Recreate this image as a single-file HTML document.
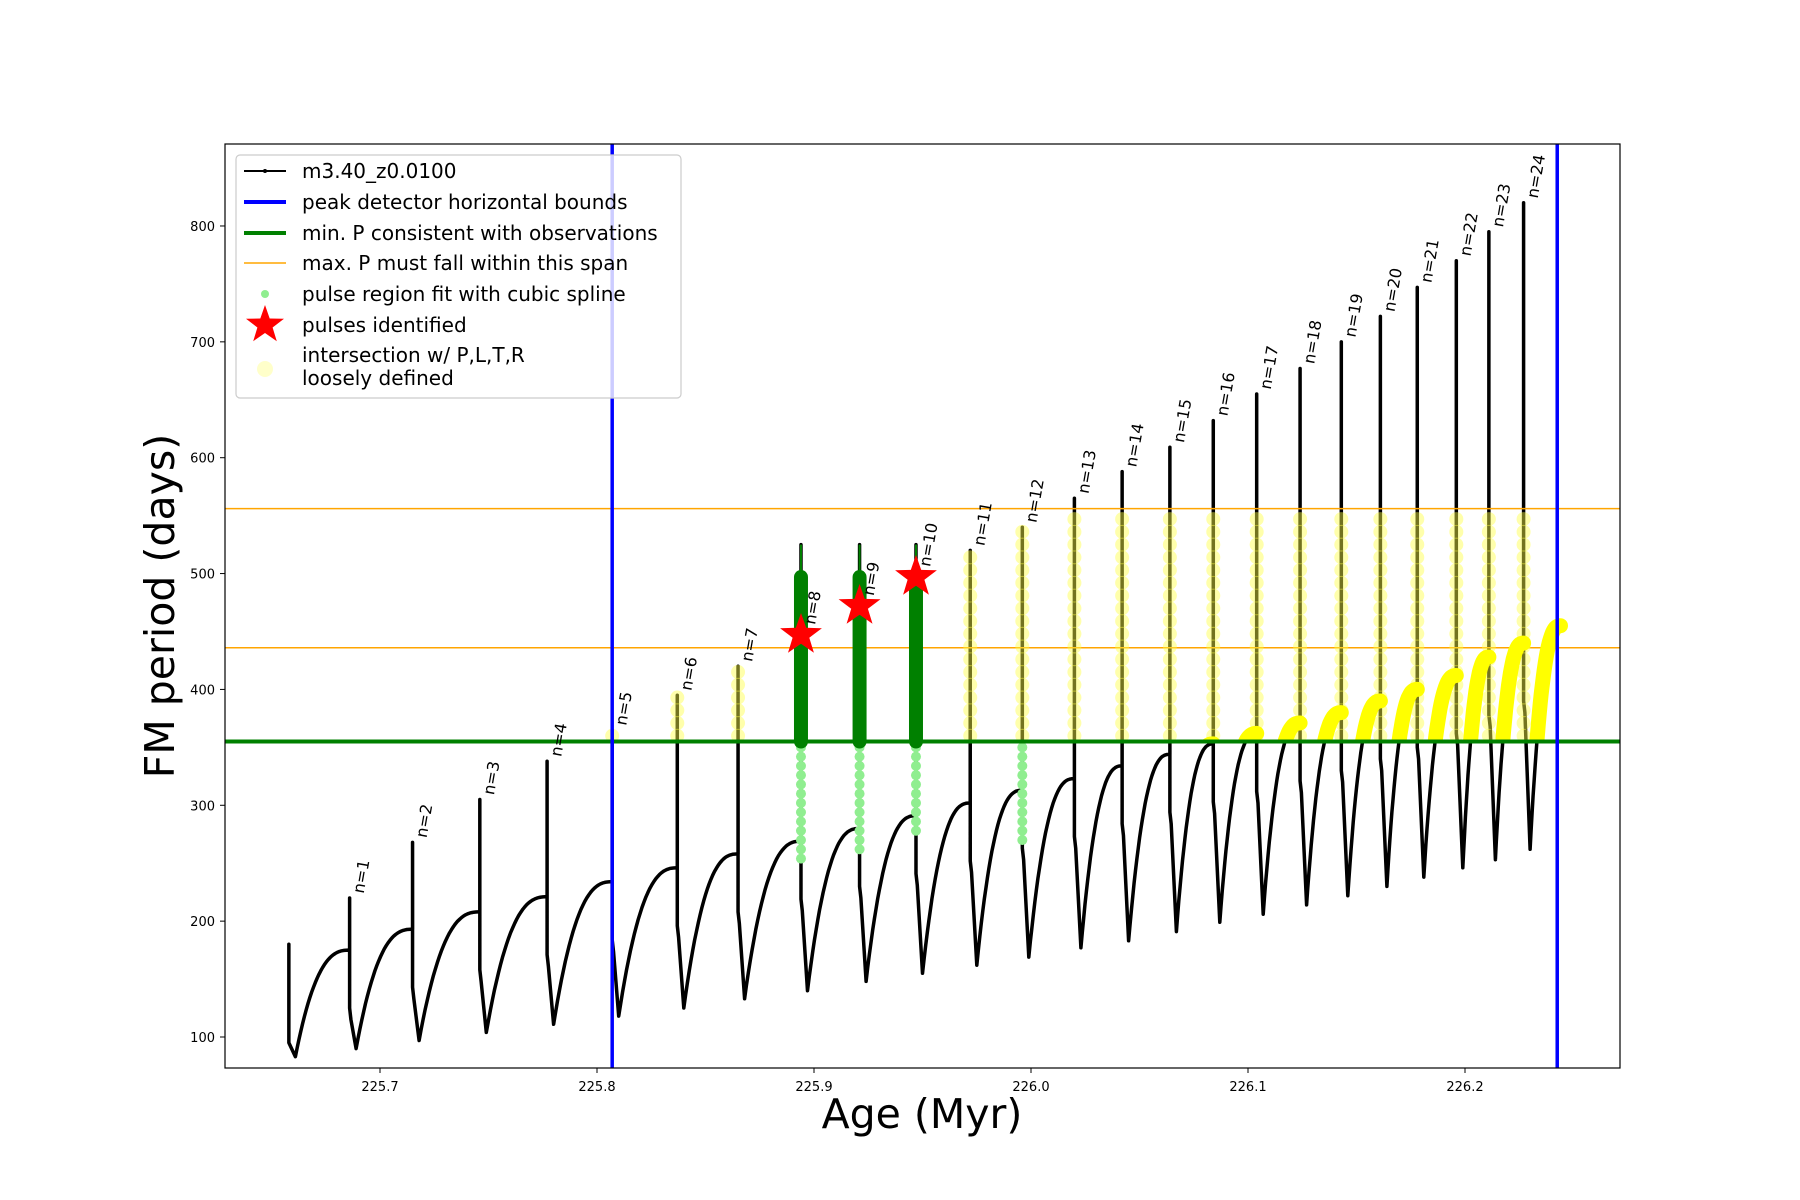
<!DOCTYPE html>
<html><head><meta charset="utf-8">
<style>
html,body{margin:0;padding:0;background:#fff;}
svg{display:block;font-family:"DejaVu Sans","Liberation Sans",sans-serif;}
</style></head>
<body>
<svg id="chart" width="1800" height="1200" viewBox="0 0 1800 1200">
<defs><clipPath id="plotclip"><rect x="225" y="144" width="1395" height="924"/></clipPath>
<clipPath id="yclip"><rect id="yclipr" x="1200" y="144" width="420" height="500"/></clipPath></defs>
<rect x="0" y="0" width="1800" height="1200" fill="#fff"/>
<g id="plot" clip-path="url(#plotclip)"></g>
<rect x="225" y="144" width="1395" height="924" fill="none" stroke="#000" stroke-width="1.2"/>
<g id="axes"></g>
<text x="922" y="1128" font-size="41" text-anchor="middle">Age (Myr)</text>
<text transform="translate(174,606) rotate(-90)" font-size="41" text-anchor="middle">FM period (days)</text>
<g>
<rect x="236" y="155" width="445" height="243" rx="4" fill="#fff" fill-opacity="0.8" stroke="#ccc" stroke-width="1.2"/>
<g font-size="20">
<line x1="244" y1="171" x2="286" y2="171" stroke="#000" stroke-width="2"/><circle cx="265" cy="171" r="2" fill="#000"/>
<text x="302" y="178">m3.40_z0.0100</text>
<line x1="244" y1="202" x2="286" y2="202" stroke="#0000ff" stroke-width="4"/>
<text x="302" y="209">peak detector horizontal bounds</text>
<line x1="244" y1="233" x2="286" y2="233" stroke="#008000" stroke-width="4"/>
<text x="302" y="240">min. P consistent with observations</text>
<line x1="244" y1="263" x2="286" y2="263" stroke="#ffa500" stroke-width="1.5"/>
<text x="302" y="270">max. P must fall within this span</text>
<circle cx="265" cy="294" r="4" fill="#90ee90"/>
<text x="302" y="301">pulse region fit with cubic spline</text>
<polygon id="legstar" fill="#ff0000"/>
<text x="302" y="332">pulses identified</text>
<circle cx="265" cy="369" r="8" fill="#ffff66" fill-opacity="0.35"/>
<text x="302" y="362">intersection w/ P,L,T,R</text>
<text x="302" y="385">loosely defined</text>
</g></g>
</svg>
<script>
const pulseAge=[225.658,225.686,225.715,225.746,225.777,225.807,225.837,225.865,225.894,225.921,225.947,225.972,225.996,226.020,226.042,226.064,226.084,226.104,226.124,226.143,226.161,226.178,226.196,226.211,226.227];
const peakP=[180,220,268,305,338,365,395,420,525,525,525,520,540,565,588,609,632,655,677,700,722,747,770,795,820];
const plateauP=[155,175,193,208,221,234,246,258,269,280,291,302,313,323,334,344,353,362,371,380,390,400,412,428,440];
const minP=[83,90,97,104,111,118,125,133,140,148,155,162,169,177,183,191,199,206,214,222,230,238,246,253,262];
const endAge=226.244, endP=455;
const boundAges=[225.807,226.2425];
const minObsP=355;
const maxSpan=[436,556];
const starAge=[225.894,225.921,225.947];
const starP=[447,472,497];
const xTicks=[225.7,225.8,225.9,226.0,226.1,226.2];
const yTicks=[100,200,300,400,500,600,700,800];
const NS='http://www.w3.org/2000/svg';
const X=v=>380+(v-225.7)*2170;
const Y=v=>1037-(v-100)*1.1586;
const plot=document.getElementById('plot'), axes=document.getElementById('axes');
function mk(tag,attrs,parent){const e=document.createElementNS(NS,tag);for(const k in attrs)e.setAttribute(k,attrs[k]);parent.appendChild(e);return e;}
function starPts(cx,cy,R){const r=R*0.4;let p=[];for(let i=0;i<10;i++){const a=-Math.PI/2+i*Math.PI/5;const rr=i%2?r:R;p.push((cx+rr*Math.cos(a)).toFixed(1)+','+(cy+rr*Math.sin(a)).toFixed(1));}return p.join(' ');}
document.getElementById('legstar').setAttribute('points',starPts(265,325,20));
const yc=document.getElementById('yclipr');
yc.setAttribute('x',X(226.078));
yc.setAttribute('height',Y(minObsP)-144);
xTicks.forEach(t=>{const g=mk('g',{},axes);


mk('line',{x1:X(t),x2:X(t),y1:1068,y2:1073,stroke:'#000'},g);
const tx=mk('text',{x:X(t),y:1091,'font-size':13,'text-anchor':'middle'},g);tx.textContent=t.toFixed(1);});
yTicks.forEach(t=>{const g=mk('g',{},axes);


mk('line',{x1:220,x2:225,y1:Y(t),y2:Y(t),stroke:'#000'},g);
const tx=mk('text',{x:215,y:Y(t)+5,'font-size':13,'text-anchor':'end'},g);tx.textContent=t;});
let d='', rise='';
for(let i=0;i<pulseAge.length;i++){
  const t=pulseAge[i];
  if(i===0){d+=`M${X(t)},${Y(plateauP[0])}L${X(t)},${Y(peakP[0])}L${X(t)},${Y(95)}`;}
  else{d+=`L${X(t)},${Y(peakP[i])}L${X(t)},${Y(plateauP[i]-50)}L${X(t+0.0006)},${Y(plateauP[i]-60)}`;}
  const t0=t+0.003, t1=(i+1<pulseAge.length?pulseAge[i+1]:endAge);
  const v0=minP[i], v1=(i+1<pulseAge.length?plateauP[i+1]:endP);
  let seg='';
  for(let k=0;k<=30;k++){const s=k/30;const f=1-Math.pow(1-s,2.6);
    const x=X(t0+(t1-t0)*s), y=Y(v0+(v1-v0)*f);
    d+=`L${x.toFixed(1)},${y.toFixed(1)}`; seg+=(k?'L':'M')+x.toFixed(1)+','+y.toFixed(1);}
  rise+=seg;
}
const curve=mk('path',{d:d,fill:'none',stroke:'#000','stroke-width':3.5,'stroke-linejoin':'round'},plot);


maxSpan.forEach(v=>{const l=mk('line',{x1:225,x2:1620,y1:Y(v),y2:Y(v),stroke:'#ffa500','stroke-width':1.5},plot);

});
for(let i=5;i<pulseAge.length;i++){
  if(i>=8&&i<=10)continue;
  const top=Math.min(peakP[i],556);
  for(let v=minObsP+5;v<=top;v+=11){
    const c=mk('circle',{cx:X(pulseAge[i]),cy:Y(v),r:7,fill:'#ffff44','fill-opacity':0.45},plot);
    
    }
}
[8,9,10,12].forEach(i=>{const lo=(i===12?265:plateauP[i]-20);
  for(let v=minObsP-5;v>=lo;v-=8){const c=mk('circle',{cx:X(pulseAge[i]),cy:Y(v),r:5,fill:'#90ee90'},plot);
  
  }});
[8,9,10].forEach((i,j)=>{
  const l1=mk('line',{x1:X(pulseAge[i]),x2:X(pulseAge[i]),y1:Y(minObsP),y2:Y(peakP[i]),stroke:'#008000','stroke-width':2},plot);
  
  
  const l2=mk('line',{x1:X(pulseAge[i]),x2:X(pulseAge[i]),y1:Y(minObsP),y2:Y(497),stroke:'#008000','stroke-width':14,'stroke-linecap':'round'},plot);
  
  
});
const yl=mk('path',{d:rise,fill:'none',stroke:'#ffff00','stroke-width':15,'stroke-linecap':'round','clip-path':'url(#yclip)'},plot);


const gl=mk('line',{x1:225,x2:1620,y1:Y(minObsP),y2:Y(minObsP),stroke:'#008000','stroke-width':4},plot);


boundAges.forEach(a=>{const l=mk('line',{x1:X(a),x2:X(a),y1:144,y2:1068,stroke:'#0000ff','stroke-width':3.5},plot);

});
for(let i=1;i<pulseAge.length;i++){
  const x=X(pulseAge[i])+14, y=Y(peakP[i]<500?peakP[i]:(i>=8&&i<=10?starP[i-8]+5:peakP[i]))-4;
  const tx=mk('text',{x:x,y:y,'font-size':16,transform:`rotate(-80 ${x} ${y})`},plot);
  tx.textContent='n='+i;
  
  
}
starAge.forEach((a,j)=>{const s=mk('polygon',{points:starPts(X(a),Y(starP[j]),22),fill:'#ff0000'},plot);

});
</script>
</body></html>
